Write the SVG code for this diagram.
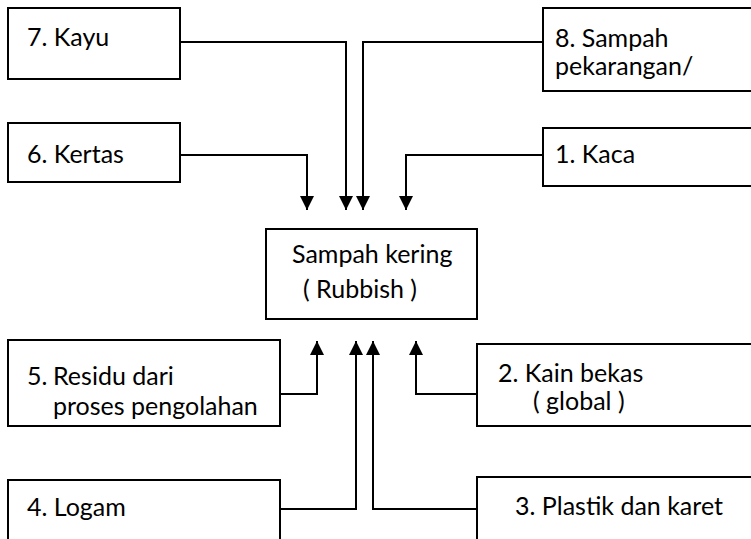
<svg xmlns="http://www.w3.org/2000/svg" width="751" height="539" viewBox="0 0 751 539">
  <style>
    .box { fill: #ffffff; stroke: #000000; stroke-width: 2; }
    .lbl { font-family: Lato, "Open Sans", "Liberation Sans", sans-serif; font-size: 25px; fill: #000000; }
    .wire { fill: none; stroke: #000000; stroke-width: 2; }
  </style>
  <defs>
    <marker id="arrow" markerUnits="userSpaceOnUse" markerWidth="14" markerHeight="14" refX="14" refY="7" orient="auto">
      <path d="M0,0 L14,7 L0,14 Z" fill="#000000"/>
    </marker>
  </defs>
  <rect width="751" height="539" fill="#ffffff"/>

  <!-- connectors -->
  <g id="connectors">
    <path class="wire" d="M180,42 H346 V210" marker-end="url(#arrow)"/>
    <path class="wire" d="M543,42 H363 V210" marker-end="url(#arrow)"/>
    <path class="wire" d="M180,155 H307 V210" marker-end="url(#arrow)"/>
    <path class="wire" d="M543,155 H406 V210" marker-end="url(#arrow)"/>
    <path class="wire" d="M280,394 H317 V341" marker-end="url(#arrow)"/>
    <path class="wire" d="M280,509 H356 V341" marker-end="url(#arrow)"/>
    <path class="wire" d="M477,509 H373 V341" marker-end="url(#arrow)"/>
    <path class="wire" d="M477,394 H416 V341" marker-end="url(#arrow)"/>
  </g>

  <!-- centre node -->
  <g id="rubbish">
    <rect class="box" x="266" y="229" width="211" height="90"/>
    <text class="lbl" x="292" y="263">Sampah kering</text>
    <text class="lbl" x="303" y="298">( Rubbish )</text>
  </g>

  <g id="kayu">
    <rect class="box" x="8" y="8" width="172" height="71"/>
    <text class="lbl" x="27" y="46">7. Kayu</text>
  </g>

  <g id="kertas">
    <rect class="box" x="8" y="123" width="172" height="59"/>
    <text class="lbl" x="27" y="163">6. Kertas</text>
  </g>

  <g id="sampah-pekarangan">
    <rect class="box" x="543" y="8" width="230" height="83"/>
    <text class="lbl" x="555" y="47">8. Sampah</text>
    <text class="lbl" x="555" y="75">pekarangan/</text>
  </g>

  <g id="kaca">
    <rect class="box" x="543" y="128" width="230" height="58"/>
    <text class="lbl" x="555" y="163">1. Kaca</text>
  </g>

  <g id="residu">
    <rect class="box" x="8" y="340" width="272" height="86"/>
    <text class="lbl" x="27" y="385">5.</text>
    <text class="lbl" x="53" y="385">Residu dari</text>
    <text class="lbl" x="53" y="415">proses pengolahan</text>
  </g>

  <g id="logam">
    <rect class="box" x="8" y="480" width="272" height="80"/>
    <text class="lbl" x="27" y="516">4. Logam</text>
  </g>

  <g id="kain-bekas">
    <rect class="box" x="477" y="344" width="290" height="82"/>
    <text class="lbl" x="498" y="382">2. Kain bekas</text>
    <text class="lbl" x="533" y="410">( global )</text>
  </g>

  <g id="plastik">
    <rect class="box" x="477" y="477" width="290" height="80"/>
    <text class="lbl" x="515" y="515">3. Plastik dan karet</text>
  </g>
</svg>
